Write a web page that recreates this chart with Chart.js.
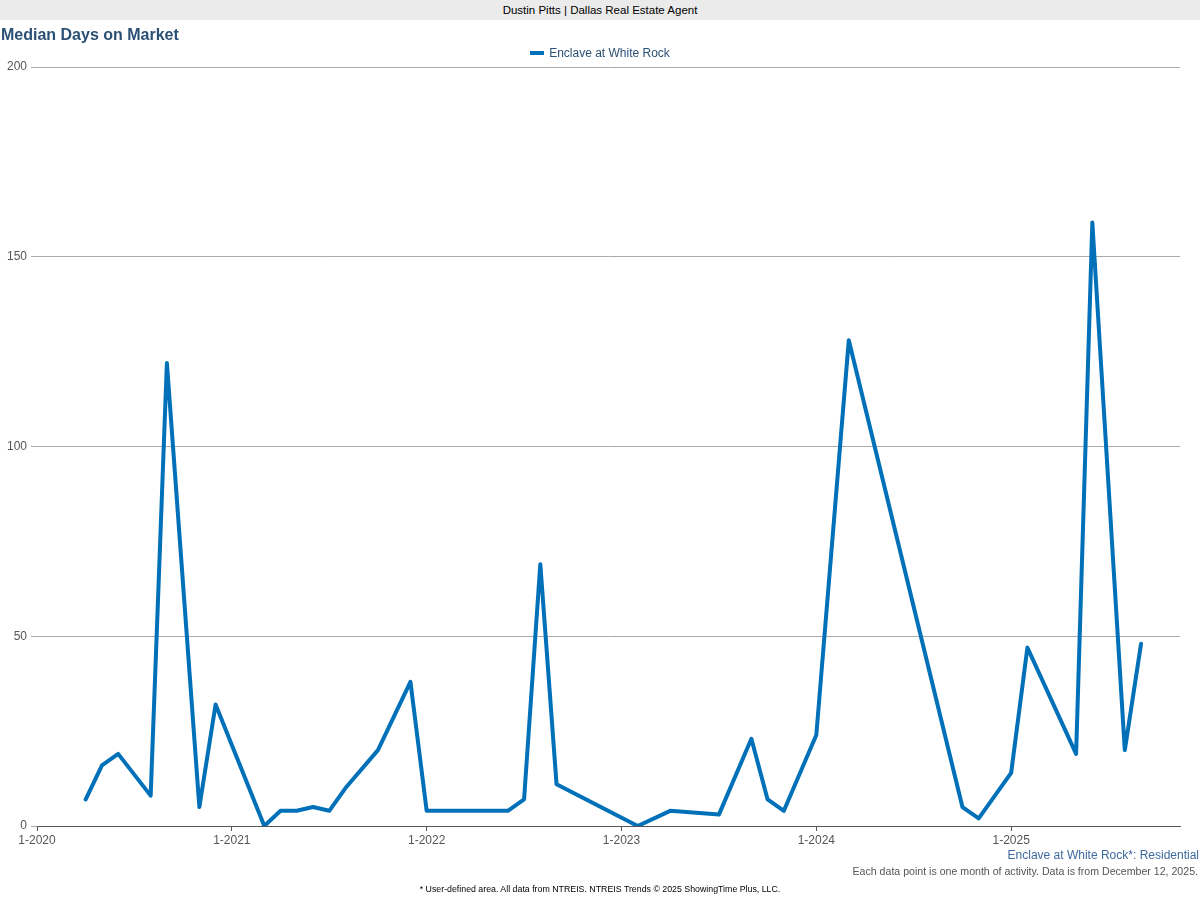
<!DOCTYPE html>
<html lang="en">
<head>
<meta charset="UTF-8">
<title>Median Days on Market</title>
<script src="https://cdn.jsdelivr.net/npm/chart.js"></script>
<style>
  body { margin: 0; width: 1200px; height: 900px; position: relative; font-family: "Liberation Sans", Arial, sans-serif; background: #fff; overflow: hidden; }
  #topbar { position: absolute; left: 0; top: 0; width: 1200px; height: 20px; background: #ebebeb; font-size: 11.5px; text-align: center; line-height: 21px; color: #000; }
  #title { position: absolute; left: 1px; top: 26px; font-size: 16px; font-weight: bold; color: #2b5075; }
  #legend { position: absolute; left: 0; width: 1200px; top: 46px; text-align: center; font-size: 12px; color: #2b5075; }
  #legend span.sw { display: inline-block; width: 14px; height: 4px; background: #0070b8; vertical-align: middle; margin-right: 5px; position: relative; top: -1px; }
  #chartBox { position: absolute; left: 0; top: 0; width: 1200px; height: 900px; }
  .note { position: absolute; right: 2px; font-size: 10.6px; color: #555; }
  #foot { position: absolute; left: 0; width: 1200px; top: 884px; text-align: center; font-size: 8.8px; color: #000; }
</style>
</head>
<body>
<div id="topbar">Dustin Pitts | Dallas Real Estate Agent</div>
<div id="chartBox"><canvas id="chart" width="1200" height="900"></canvas></div>
<div id="title">Median Days on Market</div>
<div id="legend"><span class="sw"></span>Enclave at White Rock</div>
<div class="note" style="top:848px;font-size:12px;color:#3d6a9e;right:1px;">Enclave at White Rock*: Residential</div>
<div class="note" style="top:865px;">Each data point is one month of activity. Data is from December 12, 2025.</div>
<div id="foot">* User-defined area. All data from NTREIS. NTREIS Trends © 2025 ShowingTime Plus, LLC.</div>
<script>
// months since 1-2020 (0 = Jan 2020) with a reading
const months = [3, 4, 5, 7, 8, 10, 11, 14, 15, 16, 17, 18, 19, 21, 23,
  24, 25, 26, 27, 28, 29, 30, 31, 32, 37, 39, 42, 44, 45, 46, 48, 50,
  57, 58, 60, 61, 64, 65, 67, 68];
const daysOnMarket = [7, 16, 19, 8, 122, 5, 32, 0, 4, 4, 5, 4, 10, 20, 38,
  4, 4, 4, 4, 4, 4, 7, 69, 11, 0, 4, 3, 23, 7, 4, 24, 128,
  5, 2, 14, 47, 19, 159, 20, 48];
const yearTicks = [0, 12, 24, 36, 48, 60];
const yearLabels = ['1-2020', '1-2021', '1-2022', '1-2023', '1-2024', '1-2025'];

const points = months.map((m, i) => ({ x: m, y: daysOnMarket[i] }));

new Chart(document.getElementById('chart').getContext('2d'), {
  type: 'line',
  data: {
    datasets: [{
      label: 'Enclave at White Rock',
      data: points,
      borderColor: '#0070b8',
      borderWidth: 4,
      borderJoinStyle: 'round',
      borderCapStyle: 'round',
      pointRadius: 0,
      tension: 0,
      fill: false
    }]
  },
  options: {
    responsive: false,
    animation: false,
    layout: { padding: { top: 67, right: 20, left: 0, bottom: 0 } },
    plugins: { legend: { display: false }, tooltip: { enabled: false } },
    scales: {
      x: {
        type: 'linear',
        min: 0,
        max: 70.4,
        afterBuildTicks: s => { s.ticks = yearTicks.map(v => ({ value: v })); },
        afterFit: s => { s.height = 74; },
        ticks: {
          callback: v => yearLabels[yearTicks.indexOf(v)] || '',
          color: '#555', font: { size: 12, family: 'Liberation Sans' }, maxRotation: 0, padding: 2
        },
        grid: { drawOnChartArea: false, drawTicks: true, tickLength: 5, color: '#555' },
        border: { color: '#555', width: 1 }
      },
      y: {
        min: 0,
        max: 200,
        afterFit: s => { s.width = 37; },
        ticks: { stepSize: 50, color: '#555', font: { size: 12, family: 'Liberation Sans' }, padding: 4 },
        grid: { color: '#aaa', tickLength: 6 },
        border: { display: false }
      }
    }
  }
});
</script>
</body>
</html>
